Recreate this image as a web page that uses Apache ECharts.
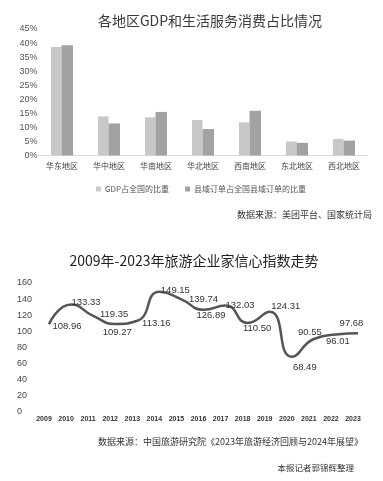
<!DOCTYPE html>
<html><head><meta charset="utf-8">
<script src="https://cdn.jsdelivr.net/npm/echarts@6/dist/echarts.min.js"></script>
<style>html,body{margin:0;padding:0;background:#fff}#c{width:383px;height:481px}</style>
</head><body><div id="c"></div>
<script>
const regions = ['华东地区','华中地区','华南地区','华北地区','西南地区','东北地区','西北地区'];
const gdpShare = [38.6, 13.9, 13.6, 12.6, 11.8, 5.0, 5.9];
const orderShare = [39.2, 11.4, 15.5, 9.4, 15.9, 4.5, 5.3];
const seriesNames = ['GDP占全国的比重', '县域订单占全国县域订单的比重'];
const years = ['2009','2010','2011','2012','2013','2014','2015','2016','2017','2018','2019','2020','2021','2022','2023'];
const confidence = [108.96,133.33,119.35,109.27,113.16,149.15,139.74,126.89,132.03,110.50,124.31,68.49,90.55,96.01,97.68];

// label placement relative to each point (layout only)
const labelOffsets = [[18,2],[15,-2],[21,-1],[2,8],[19,2.5],[16,-1],[22,0.5],[7.5,6],[14.5,-0.6],[9.5,5.4],[16,-5],[13,10.5],[-4,-7],[2,6.4],[-6.5,-9.6]];

const CJK = '"Noto Sans CJK SC", "Noto Sans", sans-serif';
const LAT = '"Liberation Sans", Arial, sans-serif';

const chart = echarts.init(document.getElementById('c'), null, {renderer:'canvas'});
chart.setOption({
  backgroundColor:'#fff',
  animation:false,
  title:[
    {text:'各地区GDP和生活服务消费占比情况', left:205, top:9, textAlign:'center',
     textStyle:{fontSize:14, fontWeight:'normal', color:'#3a3a3a', fontFamily:CJK}},
    {text:'2009年-2023年旅游企业家信心指数走势', left:189, top:249, textAlign:'center',
     textStyle:{fontSize:14, fontWeight:'normal', color:'#222', fontFamily:CJK}}
  ],
  legend:{
    data:seriesNames, left:91, top:180, itemWidth:5, itemHeight:5, itemGap:16,
    icon:'rect',
    textStyle:{fontSize:8, color:'#555', fontFamily:CJK, padding:[0,0,0,-1]}
  },
  graphic:[
    {type:'text', right:11, top:210, style:{text:'数据来源：美团平台、国家统计局', font:'9px '+CJK, fill:'#333', textAlign:'right'}},
    {type:'text', right:20, top:437, style:{text:'数据来源：中国旅游研究院《2023年旅游经济回顾与2024年展望》', font:'9px '+CJK, fill:'#333'}},
    {type:'text', right:29, top:464, style:{text:'本报记者郭锦辉整理', font:'8.5px '+CJK, fill:'#333'}}
  ],
  grid:[
    {left:38.5, right:15.5, top:29, bottom:325.5},
    {left:49, right:25, top:283, bottom:69}
  ],
  xAxis:[
    {gridIndex:0, type:'category', data:regions,
     axisLine:{lineStyle:{color:'#dcdcdc'}}, axisTick:{show:false},
     axisLabel:{fontSize:8, color:'#444', margin:6, fontFamily:CJK}},
    {gridIndex:1, type:'category', data:years, boundaryGap:false,
     axisLine:{show:false}, axisTick:{show:false},
     axisLabel:{fontSize:7, color:'#333', margin:4, fontWeight:'bold', padding:[0,10,0,0],
       fontFamily:'"Liberation Sans Narrow", "Liberation Sans", sans-serif'}}
  ],
  yAxis:[
    {gridIndex:0, type:'value', min:0, max:45, interval:5,
     axisLine:{show:false}, axisTick:{show:false}, splitLine:{show:false},
     axisLabel:{formatter:'{value}%', fontSize:9, color:'#555', margin:1, fontFamily:LAT}},
    {gridIndex:1, type:'value', min:0, max:160, interval:20,
     axisLine:{show:false}, axisTick:{show:false}, splitLine:{show:false},
     axisLabel:{fontSize:9, color:'#444', margin:32, align:'left', fontFamily:LAT}}
  ],
  series:[
    {name:seriesNames[0], type:'bar', xAxisIndex:0, yAxisIndex:0, data:gdpShare,
     barWidth:10.5, barGap:'0%', itemStyle:{color:'#c8c8c8'}},
    {name:seriesNames[1], type:'bar', xAxisIndex:0, yAxisIndex:0, data:orderShare,
     barWidth:11.5, itemStyle:{color:'#a2a2a2'}},
    {name:'信心指数', type:'line', xAxisIndex:1, yAxisIndex:1, smooth:0.55,
     symbol:'circle', symbolSize:0.1, itemStyle:{color:'rgba(0,0,0,0)'},
     lineStyle:{color:'#555', width:2.5},
     data:confidence.map((v,i)=>({value:v, label:{offset:labelOffsets[i]}})),
     label:{show:true, position:'inside', align:'center', verticalAlign:'middle',
       formatter:p=>p.value.toFixed(2), fontSize:9.5, color:'#333', fontFamily:LAT}}
  ]
});
</script></body></html>
